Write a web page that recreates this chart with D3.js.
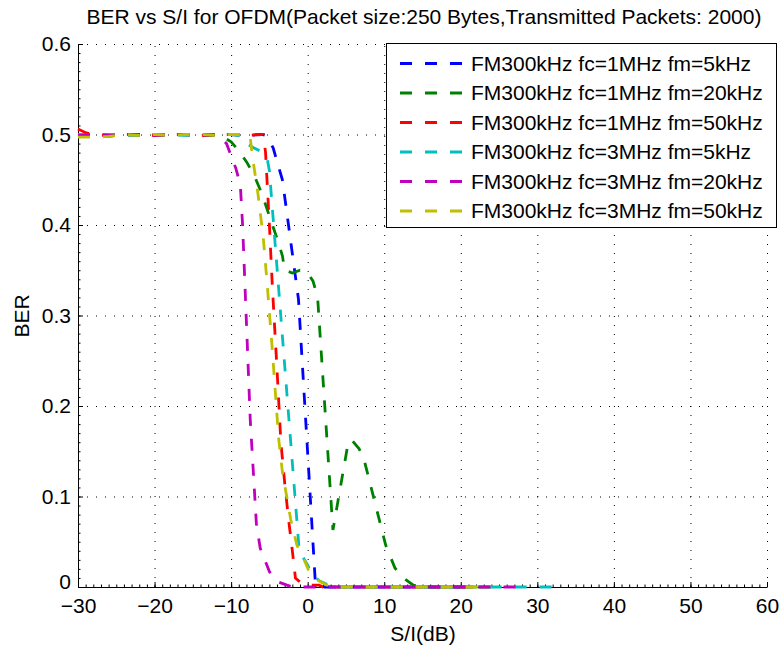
<!DOCTYPE html>
<html lang="en">
<head>
    <meta charset="UTF-8">
    <title>BER vs S/I for OFDM</title>
    <script src="https://d3js.org/d3.v7.min.js"></script>
    <style>
        body {margin: 0; background: #fff;}
        text {font-family: "Liberation Sans", Arial, sans-serif; fill: #000;}
    </style>
</head>
<body>
<script>
    // S/I (dB) vs BER
    const seriesNames = [
        "FM300kHz fc=1MHz fm=5kHz",
        "FM300kHz fc=1MHz fm=20kHz",
        "FM300kHz fc=1MHz fm=50kHz",
        "FM300kHz fc=3MHz fm=5kHz",
        "FM300kHz fc=3MHz fm=20kHz",
        "FM300kHz fc=3MHz fm=50kHz"
    ];
    const fc1fm5 = [[-30,0.498],[-28,0.499],[-26,0.5],[-24,0.499],[-22,0.5],[-20,0.499],[-18,0.5],[-16,0.5],
        [-14,0.499],[-12,0.5],[-10,0.5],[-8,0.499],[-6,0.5],[-5.5,0.499],[-5,0.493],[-4.5,0.485],[-4,0.47],
        [-3.3,0.45],[-1.2,0.318],[0,0.148],[1,0.005],[1.5,0.002],[2,0],[20,0]];
    const fc1fm20 = [[-30,0.499],[-28,0.5],[-26,0.498],[-24,0.5],[-22,0.499],[-20,0.5],[-18,0.499],[-16,0.5],
        [-14,0.499],[-12,0.499],[-11,0.497],[-10,0.492],[-9,0.482],[-8,0.47],[-7,0.455],[-6,0.435],[-5,0.41],
        [-4,0.385],[-3.3,0.366],[-3,0.35],[-2,0.347],[-1,0.35],[0,0.347],[0.7,0.338],[1.3,0.32],[3.3,0.063],
        [5.2,0.155],[5.7,0.163],[6.7,0.153],[7.3,0.143],[10.2,0.046],[11.4,0.021],[12.5,0.01],[13.8,0.002],
        [15,0],[25,0]];
    const fc1fm50 = [[-30,0.506],[-29,0.502],[-28,0.5],[-26,0.499],[-24,0.5],[-22,0.5],[-20,0.499],[-18,0.5],
        [-16,0.5],[-14,0.499],[-12,0.5],[-10,0.5],[-8,0.499],[-6,0.5],[-5.8,0.5],[-5.5,0.48],[-5,0.4],[-4.6,0.33],
        [-4,0.24],[-3.5,0.16],[-3,0.115],[-2.5,0.075],[-2,0.04],[-1.6,0.01],[-0.8,0.004],[0,0.002],[1.5,0.002],
        [2,0],[22,0]];
    const fc3fm5 = [[-30,0.5],[-28,0.499],[-26,0.5],[-24,0.5],[-22,0.499],[-20,0.5],[-18,0.5],[-16,0.499],
        [-14,0.5],[-12,0.5],[-10,0.5],[-9,0.499],[-8,0.49],[-7,0.485],[-6,0.481],[-5.3,0.474],[-5,0.46],
        [-1.1,0.04],[0,0.024],[0.6,0.014],[1.5,0.007],[2.5,0.003],[3.5,0],[33,0]];
    const fc3fm20 = [[-30,0.499],[-28,0.5],[-26,0.499],[-24,0.5],[-22,0.5],[-20,0.499],[-18,0.5],[-16,0.5],
        [-14,0.499],[-12,0.5],[-11.5,0.498],[-10.6,0.49],[-9.4,0.463],[-8.8,0.445],[-8.5,0.4],[-7.5,0.185],
        [-6.7,0.07],[-6.2,0.043],[-5,0.017],[-4,0.006],[-2.7,0.002],[-2,0],[27.5,0]];
    const fc3fm50 = [[-30,0.497],[-28,0.497],[-26,0.498],[-24,0.5],[-22,0.499],[-20,0.5],[-18,0.499],[-16,0.5],
        [-14,0.5],[-12,0.499],[-10,0.5],[-8,0.5],[-7.5,0.496],[-7.2,0.475],[-6.5,0.435],[-5.8,0.386],[-5.3,0.336],
        [-4.6,0.26],[-3.8,0.165],[-3.3,0.127],[-2.2,0.074],[-1.4,0.046],[-0.5,0.031],[0.1,0.019],[1.2,0.008],
        [2.5,0.002],[3.5,0],[24,0]];
    const allSeries = [fc1fm5, fc1fm20, fc1fm50, fc3fm5, fc3fm20, fc3fm50];
    const colors = ["#0000ff", "#008000", "#ff0000", "#00bfbf", "#bf00bf", "#bfbf00"];

    const xTicks = [-30, -20, -10, 0, 10, 20, 30, 40, 50, 60];
    const yTicks = [0, 0.1, 0.2, 0.3, 0.4, 0.5, 0.6];

    const width = 784;
    const height = 645;
    const fontSize = "21px";
    const svg = d3.select("body").append("svg")
            .attr("width", width).attr("height", height);

    const x = d3.scaleLinear().domain([-30, 60]).range([78, 767]);
    const y = d3.scaleLinear().domain([0, 0.6]).range([587, 44]);

    drawGrid();
    drawAxes();
    drawLines();
    drawLegend();
    drawLabels();

    function drawGrid() {
        const g = svg.append("g").attr("class", "grid")
                .style("stroke", "#000").style("stroke-width", 1)
                .style("stroke-dasharray", "1,8");
        g.selectAll("line.vx").data(xTicks).enter().append("line")
                .attr("class", "vx")
                .attr("x1", d => x(d) + 0.5).attr("x2", d => x(d) + 0.5)
                .attr("y1", y(0)).attr("y2", y(0.6));
        g.selectAll("line.hy").data(yTicks).enter().append("line")
                .attr("class", "hy")
                .attr("x1", x(-30)).attr("x2", x(60))
                .attr("y1", d => y(d) + 0.5).attr("y2", d => y(d) + 0.5);
    }

    function drawAxes() {
        // minor ticks first, majors on top
        svg.append("g").attr("transform", `translate(0,${y(0)})`)
                .call(d3.axisBottom(x).tickValues(d3.range(-30, 61, 1)).tickSize(-2.5).tickSizeOuter(0).tickFormat(""))
                .call(g => g.select(".domain").remove());
        svg.append("g").attr("transform", `translate(${x(-30)},0)`)
                .call(d3.axisLeft(y).tickValues(d3.range(0, 0.601, 0.01)).tickSize(-2.5).tickSizeOuter(0).tickFormat(""))
                .call(g => g.select(".domain").remove());

        const xAxis = svg.append("g").attr("transform", `translate(0,${y(0)})`)
                .call(d3.axisBottom(x).tickValues(xTicks).tickSize(-5).tickSizeOuter(0)
                        .tickPadding(11).tickFormat(d3.format("~g")));
        const yAxis = svg.append("g").attr("transform", `translate(${x(-30)},0)`)
                .call(d3.axisLeft(y).tickValues(yTicks).tickSize(-5).tickSizeOuter(0)
                        .tickPadding(7).tickFormat(d3.format("~g")));
        [xAxis, yAxis].forEach(a => {
            a.selectAll("text").style("font-size", fontSize).style("font-family", "'Liberation Sans', Arial, sans-serif");
            a.select(".domain").style("stroke", "#000");
        });
        // the zero label sits a touch higher so it clears the -30 below it
        yAxis.selectAll(".tick text").filter(d => d === 0).attr("dy", "0.08em");
    }

    function drawLines() {
        const line = d3.line().x(d => x(d[0])).y(d => y(d[1]));
        svg.selectAll("path.series")
                .data(allSeries)
                .enter()
                .append("path")
                .attr("class", "series")
                .attr("d", line)
                .style("fill", "none")
                .style("stroke", (d, i) => colors[i])
                .style("stroke-width", 2.8)
                .style("stroke-dasharray", "12,13");
    }

    function drawLegend() {
        const lg = svg.append("g").attr("class", "legend");
        lg.append("rect")
                .attr("x", 386.5).attr("y", 43.5)
                .attr("width", 390).attr("height", 184)
                .style("fill", "#fff").style("stroke", "#000").style("stroke-width", 1);
        const item = lg.selectAll("g.item")
                .data(seriesNames)
                .enter()
                .append("g")
                .attr("class", "item")
                .attr("transform", (d, i) => `translate(0,${63.5 + i * 29.5})`);
        item.append("line")
                .attr("x1", 400).attr("x2", 464)
                .style("stroke", (d, i) => colors[i])
                .style("stroke-width", 2.8)
                .style("stroke-dasharray", "12,13");
        item.append("text")
                .attr("x", 471).attr("dy", "0.35em")
                .style("font-size", fontSize)
                .text(d => d);
    }

    function drawLabels() {
        svg.append("text")
                .attr("x", 424).attr("y", 24)
                .attr("text-anchor", "middle")
                .style("font-size", fontSize)
                .text("BER vs S/I for OFDM(Packet size:250 Bytes,Transmitted Packets: 2000)");
        svg.append("text")
                .attr("x", 423).attr("y", 641)
                .attr("text-anchor", "middle")
                .style("font-size", fontSize)
                .text("S/I(dB)");
        svg.append("text")
                .attr("transform", "translate(29,316) rotate(-90)")
                .attr("text-anchor", "middle")
                .style("font-size", fontSize)
                .text("BER");
    }
</script>
</body>
</html>
